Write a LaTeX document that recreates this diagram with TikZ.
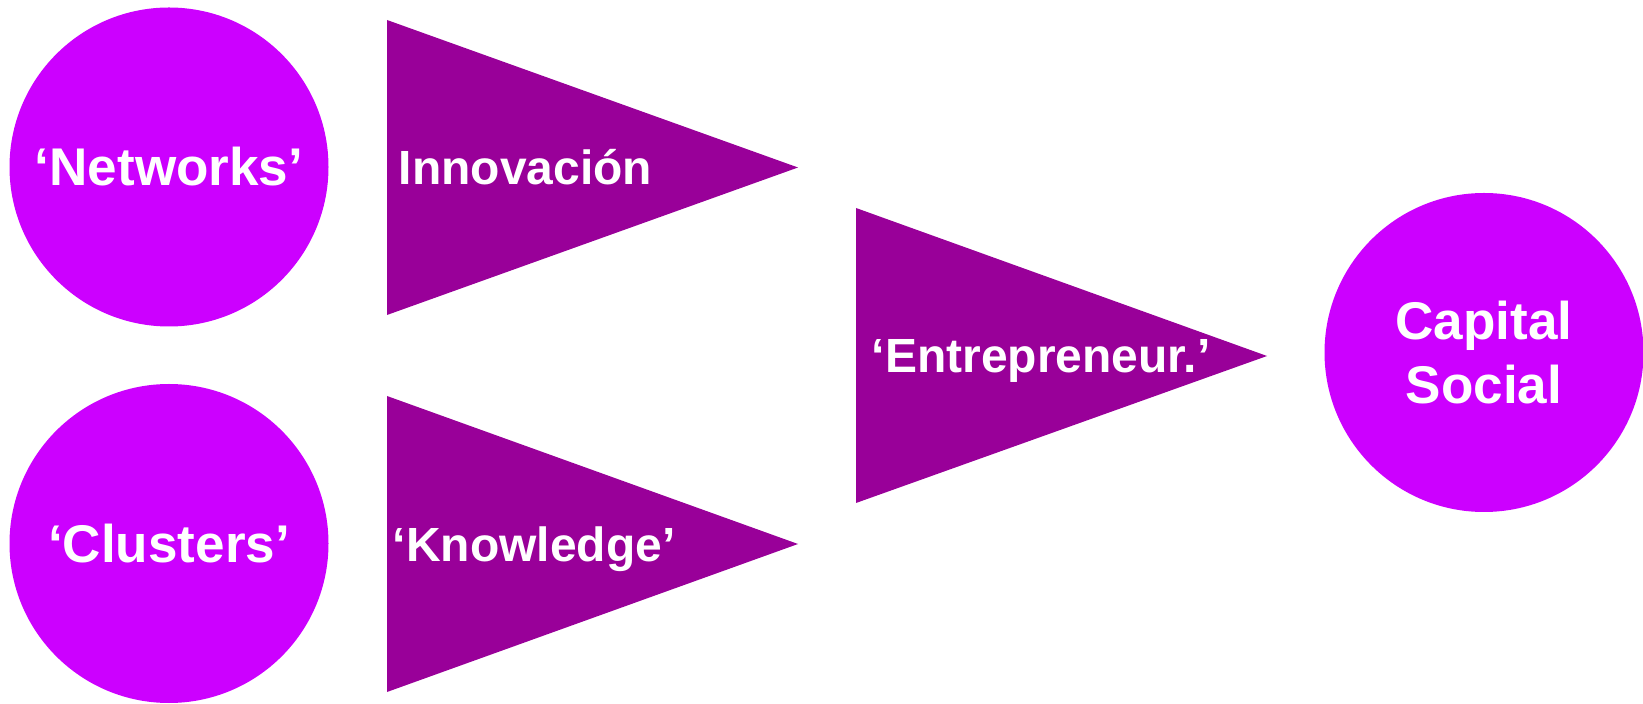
\documentclass[tikz,border=0pt]{standalone}
\usepackage{fontspec}
\setmainfont{Liberation Sans}
\definecolor{bubblecol}{HTML}{CC00FF}
\definecolor{wedgecol}{HTML}{990099}
\tikzset{
	bubble/.style={circle, fill=bubblecol, minimum size=6.38cm, inner sep=0pt, text=white,
		font=\fontsize{30.2}{36.4}\selectfont\bfseries, align=center},
	wedge/.style={fill=wedgecol},
	wedgetext/.style={anchor=base west, inner sep=0pt, text=white,
		font=\fontsize{27.3}{32}\selectfont\bfseries}
}
\begin{document}
\begin{tikzpicture}[scale=1.0]
	\useasboundingbox (0,0) rectangle (32.86,14.06);
	% Circles
	\node[bubble] (networks) at (3.38,10.72) {‘Networks’};
	\node[bubble] (clusters) at (3.38,3.19) {‘Clusters’};
	\node[bubble] (capital) at (29.68,7.01) {Capital\\Social};
	% Triangles
	\fill[wedge] (7.74,13.66) -- (7.74,7.76) -- (15.96,10.71) -- cycle;
	\fill[wedge] (7.74,6.14) -- (7.74,0.22) -- (15.96,3.18) -- cycle;
	\fill[wedge] (17.12,9.90) -- (17.12,4.00) -- (25.34,6.94) -- cycle;
	% Labels
	\node[wedgetext] (innovacion) at (7.97,10.36) {Innovación};
	\node[wedgetext] (knowledge) at (7.85,2.82) {‘Knowledge’};
	\node[wedgetext] (entrepreneur) at (17.43,6.60) {‘Entrepreneur.’};
\end{tikzpicture}
\end{document}
